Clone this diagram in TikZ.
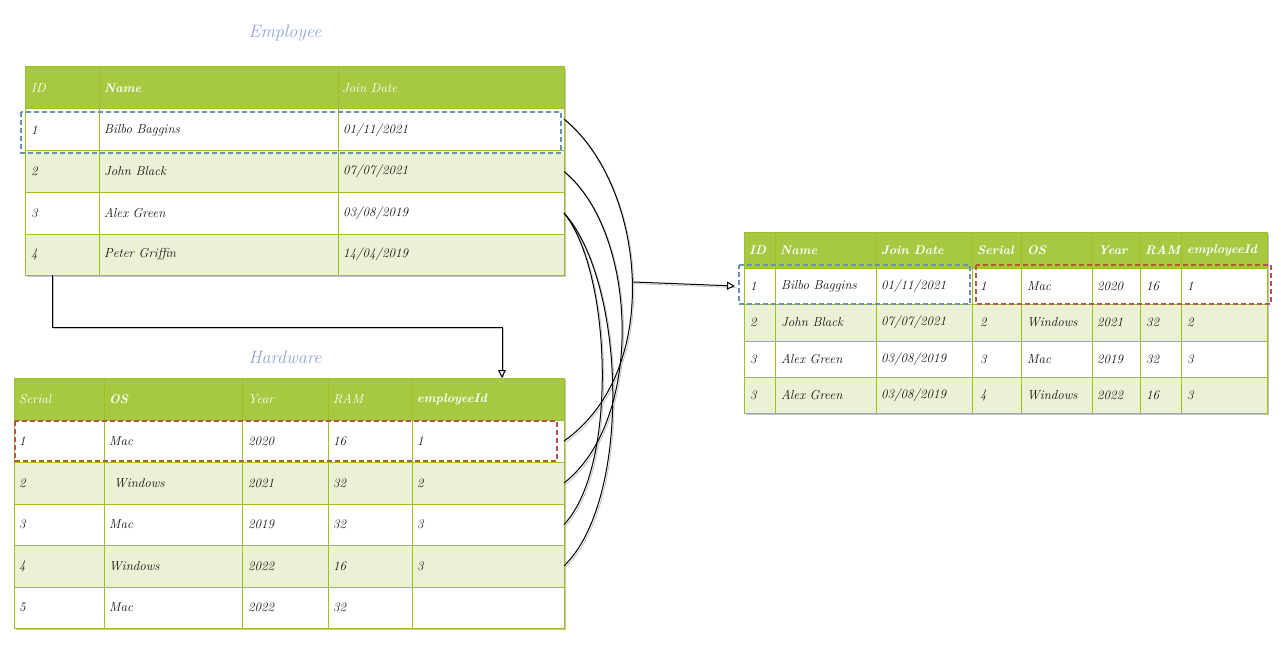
\documentclass[tikz,border=0pt]{standalone}
\usetikzlibrary{arrows.meta}
\definecolor{hgreen}{HTML}{A7C942}
\definecolor{lgreen}{HTML}{EAF1D5}
\definecolor{bgreen}{HTML}{9CC026}
\definecolor{shadowc}{HTML}{C4C4C4}
\definecolor{dblue}{HTML}{6C8EBF}
\definecolor{dred}{HTML}{B85450}
\definecolor{ttlblue}{HTML}{8EA6DC}
\definecolor{txtc}{HTML}{141414}
\newcommand\dsl{/}
\begin{document}
\begin{tikzpicture}[x=1pt,y=-1pt,
  rowbox/.style={anchor=north west,inner sep=0pt,outer sep=0pt,draw=none},
  grid/.style={draw=bgreen,line width=1pt},
  txt/.style={anchor=west,inner sep=0pt,text=txtc,font=\itshape\fontsize{13}{15}\selectfont},
  htxt/.style={anchor=west,inner sep=0pt,text=white,font=\itshape\fontsize{13}{15}\selectfont},
  hbtxt/.style={htxt,font=\bfseries\itshape\fontsize{12.5}{15}\selectfont},
  ttl/.style={text=ttlblue,font=\itshape\fontsize{18}{21}\selectfont},
  blueframe/.style={draw=dblue,line width=1.5pt,dash pattern=on 5pt off 3pt},
  redframe/.style={draw=dred,line width=1.5pt,dash pattern=on 5pt off 3pt},
  link/.style={draw=black,line width=1pt},
  linkshade/.style={draw=gray!45,line width=0.9pt,transform canvas={shift={(1.4pt,-1.6pt)}}},
  tip/.style={-{Triangle[open,length=8pt,width=8pt]}}
]
\useasboundingbox[fill=white] (0,0) rectangle (1282,658);

% ---------- Employee table ----------
\node[ttl] (emptitle) at (285,33) {Employee};
\fill[shadowc] (27,69) rectangle (566,277);
\node[rowbox,fill=hgreen,minimum width=539pt,minimum height=42pt] (emph) at (25,67) {};
\node[rowbox,fill=white,minimum width=539pt,minimum height=42pt] (emp1) at (25,109) {};
\node[rowbox,fill=lgreen,minimum width=539pt,minimum height=41pt] (emp2) at (25,151) {};
\node[rowbox,fill=white,minimum width=539pt,minimum height=42pt] (emp3) at (25,192) {};
\node[rowbox,fill=lgreen,minimum width=539pt,minimum height=41pt] (emp4) at (25,234) {};
\draw[grid] (25,67) rectangle (564,275);
\foreach \y in {109,151,192,234} \draw[grid] (25,\y) -- (564,\y);
\foreach \x in {99,338} \draw[grid] (\x,67) -- (\x,275);
\node[htxt] (eh1) at (31,88) {ID};
\node[hbtxt] (eh2) at (104,88) {Name};
\node[htxt] (eh3) at (342,88) {Join Date};
\foreach \y/\a/\b/\d [count=\r] in {
  130/1/Bilbo Baggins/01\dsl 11\dsl 2021,
  171.5/2/John Black/07\dsl 07\dsl 2021,
  213/3/Alex Green/03\dsl 08\dsl 2019,
  254.5/4/Peter Griffin/14\dsl 04\dsl 2019}{
  \node[txt] (ea\r) at (31,\y) {\a};
  \node[txt] (eb\r) at (104,\y) {\b};
  \node[txt] (ed\r) at (343,\y) {\d};
}
\draw[blueframe] (21,112) rectangle (561,153);

% ---------- Hardware table ----------
\node[ttl] (hwtitle) at (285,357) {Hardware};
\fill[shadowc] (16,380) rectangle (566,630);
\node[rowbox,fill=hgreen,minimum width=550pt,minimum height=42pt] (hwh) at (14,378) {};
\node[rowbox,fill=white,minimum width=550pt,minimum height=42pt] (hw1) at (14,420) {};
\node[rowbox,fill=lgreen,minimum width=550pt,minimum height=42pt] (hw2) at (14,462) {};
\node[rowbox,fill=white,minimum width=550pt,minimum height=41pt] (hw3) at (14,504) {};
\node[rowbox,fill=lgreen,minimum width=550pt,minimum height=42pt] (hw4) at (14,545) {};
\node[rowbox,fill=white,minimum width=550pt,minimum height=41pt] (hw5) at (14,587) {};
\draw[grid] (14,378) rectangle (564,628);
\foreach \y in {420,462,504,545,587} \draw[grid] (14,\y) -- (564,\y);
\foreach \x in {104,242,328,412} \draw[grid] (\x,378) -- (\x,628);
\node[htxt] (hh1) at (19,399) {Serial};
\node[hbtxt] (hh2) at (109,399) {OS};
\node[htxt] (hh3) at (248,399) {Year};
\node[htxt] (hh4) at (333,399) {RAM};
\node[hbtxt] (hh5) at (417,399) {employeeId};
\foreach \y/\a/\xo/\b/\d/\e/\f [count=\r] in {
  441/1/109/Mac/2020/16/1,
  483/2/114/Windows/2021/32/2,
  524.5/3/109/Mac/2019/32/3,
  566/4/109/Windows/2022/16/3,
  607.5/5/109/Mac/2022/32/{}}{
  \node[txt] (ha\r) at (19,\y) {\a};
  \node[txt] (hb\r) at (\xo,\y) {\b};
  \node[txt] (hc\r) at (248,\y) {\d};
  \node[txt] (hd\r) at (333,\y) {\e};
  \node[txt] (he\r) at (417,\y) {\f};
}
\draw[redframe] (15,421) rectangle (557,461);

% ---------- Joined table ----------
\fill[shadowc] (746,234) rectangle (1269,415);
\node[rowbox,fill=hgreen,minimum width=523pt,minimum height=36pt] (resh) at (744,232) {};
\node[rowbox,fill=white,minimum width=523pt,minimum height=36pt] (res1) at (744,268) {};
\node[rowbox,fill=lgreen,minimum width=523pt,minimum height=37pt] (res2) at (744,304) {};
\node[rowbox,fill=white,minimum width=523pt,minimum height=36pt] (res3) at (744,341) {};
\node[rowbox,fill=lgreen,minimum width=523pt,minimum height=36pt] (res4) at (744,377) {};
\draw[grid] (744,232) rectangle (1267,413);
\foreach \y in {268,304,341,377} \draw[grid] (744,\y) -- (1267,\y);
\foreach \x in {775,876,972,1021,1092,1140,1181} \draw[grid] (\x,232) -- (\x,413);
\foreach \x/\t [count=\c] in {749/ID,780/Name,881/Join Date,977/Serial,1027/OS,1098/Year,1145/RAM,1187/employeeId}
  \node[hbtxt] (rh\c) at (\x,250) {\t};
\foreach \y/\a/\b/\d/\s/\o/\yr/\m/\k [count=\r] in {
  286/1/Bilbo Baggins/01\dsl 11\dsl 2021/1/Mac/2020/16/1,
  322.5/2/John Black/07\dsl 07\dsl 2021/2/Windows/2021/32/2,
  359/3/Alex Green/03\dsl 08\dsl 2019/3/Mac/2019/32/3,
  395/3/Alex Green/03\dsl 08\dsl 2019/4/Windows/2022/16/3}{
  \node[txt] (ra\r) at (750,\y) {\a};
  \node[txt] (rb\r) at (781,\y) {\b};
  \node[txt] (rc\r) at (881,\y) {\d};
  \node[txt] (rd\r) at (980,\y) {\s};
  \node[txt] (re\r) at (1027,\y) {\o};
  \node[txt] (rf\r) at (1097,\y) {\yr};
  \node[txt] (rg\r) at (1146,\y) {\m};
  \node[txt] (rk\r) at (1187,\y) {\k};
}
\draw[blueframe] (739,265) -- (970,265) -- (970,304) -- (739,304) -- cycle;
\draw[redframe] (976,265) rectangle (1271,304);

% ---------- Connectors ----------
\coordinate (elbowA) at ([xshift=27pt]emp4.south west);
\coordinate (elbowB) at ([xshift=488pt]hwh.north west);
\coordinate (joinpt) at (633,282);
\coordinate (emp1top) at ([yshift=11pt]emp1.east);

\draw[linkshade] (elbowA) -- ++(0,52) -| (elbowB);
\draw[link,tip] (elbowA) -- ++(0,52) -| (elbowB);

\foreach \s in {linkshade,link}{
  \draw[\s] (emp1top) .. controls (645,185) and (665,370) .. (hw1.east);
  \draw[\s] (emp2.east) .. controls (638,232) and (645,420) .. (hw2.east);
  \draw[\s] (emp3.east) .. controls (612,272) and (618,468) .. (hw3.east);
  \draw[\s] (emp3.east) .. controls (626,282) and (632,500) .. (hw4.east);
}
\draw[linkshade] (joinpt) -- ([xshift=-9pt]res1.west);
\draw[link,tip] (joinpt) -- ([xshift=-9pt]res1.west);
\end{tikzpicture}
\end{document}
